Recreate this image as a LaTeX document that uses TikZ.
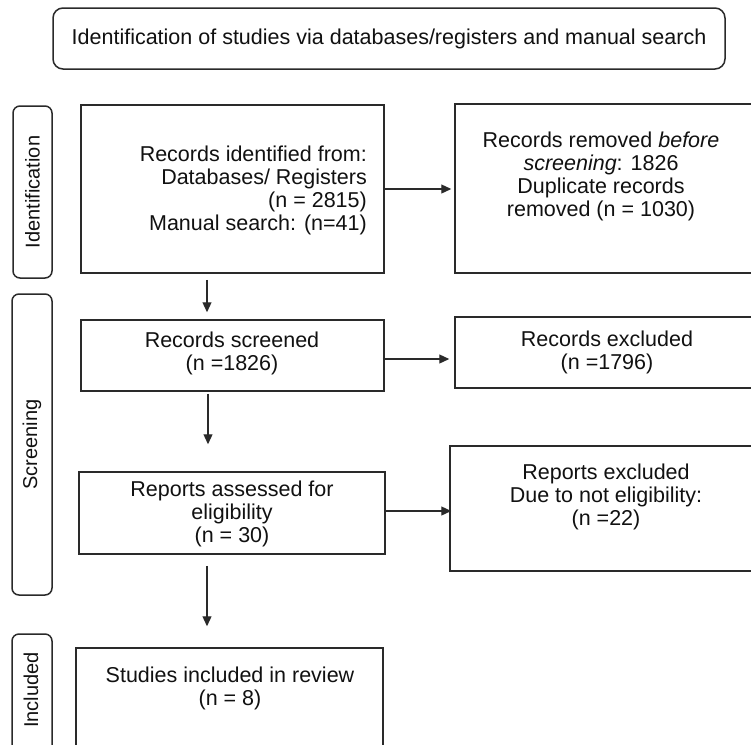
\documentclass[tikz,border=0pt]{standalone}
\usepackage{fontspec}
\setmainfont{Liberation Sans}
\usetikzlibrary{arrows.meta}
\definecolor{linec}{HTML}{2A2A2A}
\definecolor{textc}{HTML}{111111}
\begin{document}
\begin{tikzpicture}[x=1pt,y=-1pt,
  boxst/.style={draw=linec, line width=1.5pt, inner sep=0pt, fill=white},
  labst/.style={draw=linec, line width=1.5pt, rounded corners=7pt, inner sep=0pt},
  txt/.style={font=\fontsize{21.5}{23}\selectfont, align=center, inner sep=0pt, text=textc},
  labtxt/.style={font=\fontsize{20}{22}\selectfont, rotate=90, inner sep=0pt, text=textc},
  arr/.style={draw=linec, line width=1.2pt, -{Triangle[length=10pt,width=9pt]}}]
\useasboundingbox (0,0) rectangle (751,744);
\clip (0,0) rectangle (751,744);
\fill[white] (0,0) rectangle (751,744);

% title
\node[boxst, rounded corners=10pt, minimum width=672pt, minimum height=61pt] (title) at (389,38.5) {};
\node[txt] (titlet) at (389,39) {Identification of studies via databases/registers and manual search};

% phase labels
\node[labst, minimum width=39pt, minimum height=172pt] (idlab) at (32.5,192) {};
\node[labtxt] (idlabt) at (32.5,192) {Identification};
\node[labst, minimum width=40pt, minimum height=301pt] (scrlab) at (32,444.5) {};
\node[labtxt] (scrlabt) at (32,444.5) {Screening};
\node[labst, minimum width=40pt, minimum height=160pt] (inclab) at (32,714) {};
\node[labtxt] (inclabt) at (31,690) {Included};

% boxes
\node[boxst, minimum width=303pt, minimum height=168pt] (ident) at (232.5,189) {};
\node[boxst, minimum width=315pt, minimum height=169pt] (removed) at (612.5,188.5) {};
\node[boxst, minimum width=303pt, minimum height=71pt] (screened) at (232.5,355.5) {};
\node[boxst, minimum width=315pt, minimum height=71pt] (excl) at (612.5,352.5) {};
\node[boxst, minimum width=306pt, minimum height=82pt] (reports) at (232,513) {};
\node[boxst, minimum width=320pt, minimum height=125pt] (repexcl) at (610,508.5) {};
\node[boxst, minimum width=307pt, minimum height=152pt] (incl) at (229.5,724) {};

% texts
\node[txt, align=right, anchor=east] (identt) at (367,190) {Records identified from:\\Databases/ Registers\\(n = 2815)\\Manual search: (n=41)};
\node[txt] (removedt) at (601,176) {Records removed \textit{before}\\\textit{screening}: 1826\\Duplicate records\\removed (n = 1030)};
\node[txt] (screenedt) at (232,353.5) {Records screened\\(n =1826)};
\node[txt] (exclt) at (607,352) {Records excluded\\(n =1796)};
\node[txt] (reportst) at (232,513.5) {Reports assessed for\\eligibility\\(n = 30)};
\node[txt] (repexclt) at (606,496.5) {Reports excluded\\Due to not eligibility:\\(n =22)};
\node[txt] (inclt) at (230,688.5) {Studies included in review\\(n = 8)};

% connectors
\draw[arr, shorten >=3pt] (ident.east) -- (ident.east -| removed.west);
\draw[arr, shorten <=6pt, shorten >=7pt] ([xshift=-25.5pt]ident.south) -- ([xshift=-25.5pt]ident.south |- screened.north);
\draw[arr, shorten <=-2pt, shorten >=5pt] ([yshift=-3.5pt]screened.east) -- ([yshift=-3.5pt]screened.east -| excl.west);
\draw[arr, shorten <=2pt, shorten >=27pt] ([xshift=-24.5pt]screened.south) -- ([xshift=-24.5pt]screened.south |- reports.north);
\draw[arr, shorten >=-2pt] ([yshift=2pt]reports.east) -- ([yshift=2pt]reports.east -| repexcl.west);
\draw[arr, shorten <=11pt, shorten >=21pt] ([xshift=-25pt]reports.south) -- ([xshift=-25pt]reports.south |- incl.north);
\end{tikzpicture}
\end{document}
